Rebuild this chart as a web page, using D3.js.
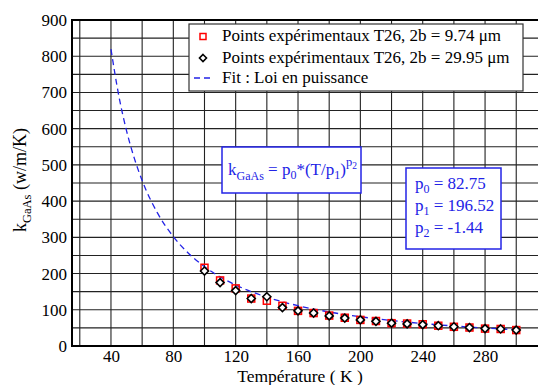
<!DOCTYPE html>
<html><head><meta charset="utf-8">
<script src="https://cdn.jsdelivr.net/npm/d3@7"></script>
<style>
html,body{margin:0;padding:0;background:#fff;}
svg{display:block;font-family:"Liberation Serif","Times New Roman",serif;}
</style></head>
<body><svg id="c" width="538" height="385"></svg>
<script>
// ---- data ----
const temps = [100,110,120,130,140,150,160,170,180,190,200,210,220,230,240,250,260,270,280,290,300];
const k_974 = [216,181,159,131,125,111,97,91,84,78,72,69,63,62,60,56,53,51,48,47,44];
const k_2995 = [207,175,153,131,136,106,97,91,83,77,72,68,63,61,59,56,53,51,48,47,44];
const fitT = [40,45,50,55,60,70,80,90,100,110,120,130,140,150,160,170,180,190,200,210,220,230,240,250,260,270,280,290,300];
const fitK = [819.5,691.6,594.1,518.0,456.9,366.0,302.0,254.9,219.0,190.9,168.4,150.1,134.9,122.1,111.3,102.0,93.9,86.9,80.7,75.2,70.4,66.0,62.1,58.5,55.3,52.4,49.7,47.3,45.0];
const xTicks = [40,80,120,160,200,240,280];
const yTicks = [0,100,200,300,400,500,600,700,800,900];
const xGrid = [20,40,60,80,100,120,140,160,180,200,220,240,260,280,300,320];
const yGrid = [50,100,150,200,250,300,350,400,450,500,550,600,650,700,750,800,850];
const legendLabels = ["Points expérimentaux T26, 2b = 9.74 μm","Points expérimentaux T26, 2b = 29.95 μm","Fit : Loi en puissance"];
const params = [["0","82.75"],["1","196.52"],["2","-1.44"]];

const svg = d3.select("#c");
const FF = "Liberation Serif";
const x = d3.scaleLinear().domain([15,330]).range([72,563]);
const y = d3.scaleLinear().domain([0,900]).range([346,20]);
const blue = "#2323e6";

// grid
const g = svg.append("g");
g.selectAll(".vg").data(xGrid).join("line")
  .attr("x1",d=>x(d)).attr("x2",d=>x(d)).attr("y1",y(0)).attr("y2",y(900))
  .attr("stroke","#222").attr("stroke-width",1.1);
g.selectAll(".hg").data(yGrid).join("line")
  .attr("x1",x(15)).attr("x2",x(330)).attr("y1",d=>y(d)).attr("y2",d=>y(d))
  .attr("stroke","#222").attr("stroke-width",1.1);

// axes frame
svg.append("line").attr("x1",x(15)).attr("x2",x(15)).attr("y1",y(0)+1).attr("y2",y(900)-1).attr("stroke","#000").attr("stroke-width",2);
svg.append("line").attr("x1",x(15)).attr("x2",x(330)).attr("y1",y(0)).attr("y2",y(0)).attr("stroke","#000").attr("stroke-width",2);
svg.append("line").attr("x1",x(15)).attr("x2",x(330)).attr("y1",y(900)).attr("y2",y(900)).attr("stroke","#000").attr("stroke-width",2);

// tick labels via axes
const xa = svg.append("g").attr("transform",`translate(0,${y(0)})`)
  .call(d3.axisBottom(x).tickValues(xTicks).tickSize(0).tickPadding(4).tickFormat(d3.format("d")));
xa.attr("font-family",FF);
xa.select(".domain").remove();
xa.selectAll("text").attr("font-size",17).attr("fill","#000");
const ya = svg.append("g").attr("transform",`translate(${x(15)},0)`)
  .call(d3.axisLeft(y).tickValues(yTicks).tickSize(0).tickPadding(5).tickFormat(d3.format("d")));
ya.attr("font-family",FF);
ya.select(".domain").remove();
ya.selectAll("text").attr("font-size",17).attr("fill","#000");

// axis titles
svg.append("text").attr("x",300).attr("y",382).attr("text-anchor","middle").attr("font-size",17.5).text("Température ( K )");
const yt = svg.append("text").attr("transform","translate(26,180) rotate(-90)").attr("text-anchor","middle").attr("font-size",18);
yt.append("tspan").text("k");
yt.append("tspan").attr("dy",5).attr("font-size",12.5).text("GaAs");
yt.append("tspan").attr("dy",-5).text("  (w/m/K)");

// fit line
const line = d3.line().x(d=>x(d[0])).y(d=>y(d[1])).curve(d3.curveMonotoneX);
svg.append("path").datum(fitT.map((t,i)=>[t,fitK[i]])).attr("d",line)
  .attr("fill","none").attr("stroke",blue).attr("stroke-width",1.3).attr("stroke-dasharray","6,4");

// markers
const sq = 7, dm = 4;
function square(sel,cx,cy,s){ sel.append("rect").attr("x",cx-s/2).attr("y",cy-s/2).attr("width",s).attr("height",s).attr("fill","none").attr("stroke","#f00").attr("stroke-width",1.5); }
function diamond(sel,cx,cy,r){ sel.append("path").attr("d",`M${cx},${cy-r}L${cx+r},${cy}L${cx},${cy+r}L${cx-r},${cy}Z`).attr("fill","#fff").attr("stroke","#000").attr("stroke-width",1.6); }
const pts = svg.append("g");
temps.forEach((t,i)=>square(pts,x(t),y(k_974[i]),sq));
temps.forEach((t,i)=>diamond(pts,x(t),y(k_2995[i]),dm));

// legend
const lg = svg.append("g");
lg.append("rect").attr("x",189).attr("y",24).attr("width",334).attr("height",67).attr("fill","#fff").attr("stroke","#333").attr("stroke-width",1.2);
const ly = [36.5,58,78];
square(lg,203,ly[0],6);
diamond(lg,203,ly[1],3.5);
lg.append("line").attr("x1",194).attr("x2",213).attr("y1",ly[2]).attr("y2",ly[2]).attr("stroke",blue).attr("stroke-width",1.3).attr("stroke-dasharray","6,4");
legendLabels.forEach((l,i)=>lg.append("text").attr("x",222).attr("y",ly[i]+4.5).attr("font-size",17).text(l));

// equation box
const eb = svg.append("g");
eb.append("rect").attr("x",222).attr("y",147).attr("width",139).attr("height",46).attr("fill","#fff").attr("stroke",blue).attr("stroke-width",1.5);
const et = eb.append("text").attr("x",228).attr("y",175).attr("font-size",17).attr("fill",blue);
et.append("tspan").text("k");
et.append("tspan").attr("dy",5).attr("font-size",12).text("GaAs");
et.append("tspan").attr("dy",-5).text(" = p");
et.append("tspan").attr("dy",4).attr("font-size",12).text("0");
et.append("tspan").attr("dy",-4).text("*(T/p");
et.append("tspan").attr("dy",4).attr("font-size",12).text("1");
et.append("tspan").attr("dy",-4).text(")");
et.append("tspan").attr("dy",-9).attr("font-size",12.5).text("p");
et.append("tspan").attr("dy",3).attr("font-size",9.5).text("2");

// param box
const pb = svg.append("g");
pb.append("rect").attr("x",406).attr("y",168).attr("width",95).attr("height",81).attr("fill","#fff").attr("stroke",blue).attr("stroke-width",1.5);
const pY = [189,211,233];
params.forEach((p,i)=>{
  const t = pb.append("text").attr("x",415).attr("y",pY[i]).attr("font-size",17).attr("fill",blue);
  t.append("tspan").text("p");
  t.append("tspan").attr("dy",4).attr("font-size",12).text(p[0]);
  t.append("tspan").attr("dy",-4).text(" = "+p[1]);
});
</script></body></html>
